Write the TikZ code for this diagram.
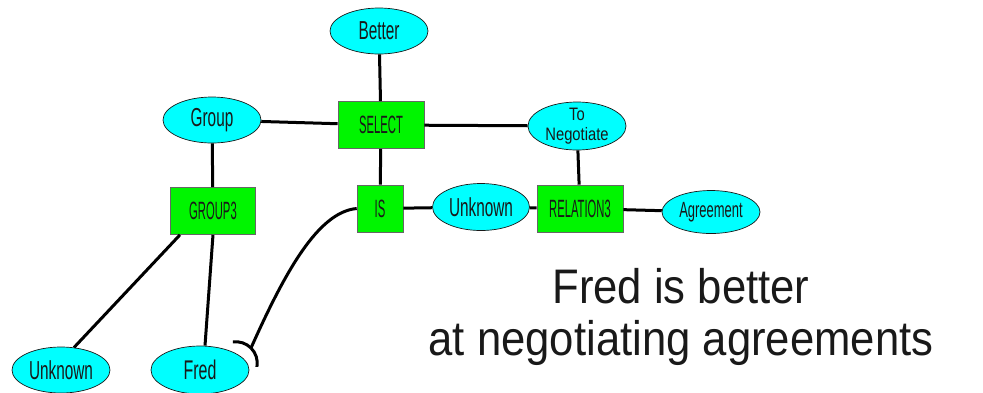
\documentclass[tikz,border=0pt]{standalone}
\usepackage{fontspec}
\setmainfont{Liberation Sans}
\newfontfamily\ellfont[FakeStretch=0.59]{Liberation Sans}
\newfontfamily\boxfont[FakeStretch=0.45]{Liberation Sans}
\newfontfamily\negfont[FakeStretch=0.82]{Liberation Sans}
\newfontfamily\bigfont[FakeStretch=0.9]{Liberation Sans}
\usetikzlibrary{shapes.geometric}
\definecolor{ecyan}{RGB}{0,255,255}
\definecolor{bgreen}{RGB}{0,245,0}
\definecolor{ink}{RGB}{25,25,25}
\tikzset{
  concept/.style={ellipse, draw=ink, line width=0.7pt, fill=ecyan,
    minimum width=98pt, minimum height=46pt, inner sep=0pt, text=ink,
    font=\ellfont\fontsize{26}{26}\selectfont},
  relbox/.style={rectangle, draw=black!60, line width=0.6pt, fill=bgreen,
    minimum height=47pt, inner sep=0pt, text=ink,
    font=\boxfont\fontsize{25}{25}\selectfont},
  link/.style={line width=3pt, black},
  caption/.style={anchor=base, inner sep=0pt, text=ink,
    font=\bigfont\fontsize{48.5}{52}\selectfont}
}
\begin{document}
\begin{tikzpicture}[x=1pt,y=-1pt]
\useasboundingbox (0,0) rectangle (983,392);
% nodes
\node[concept] (better) at (379,31) {Better};
\node[relbox, minimum width=86pt] (select) at (381,125) {SELECT};
\node[concept] (group) at (212,120) {Group};
\node[concept, align=center, inner ysep=-3pt, minimum height=48pt,
      font=\negfont\fontsize{18}{20}\selectfont] (toneg) at (577,126) {To\\Negotiate};
\node[relbox, minimum width=85pt] (group3) at (213,211) {GROUP3};
\node[relbox, minimum width=46pt] (is) at (380,208.5) {IS};
\node[concept, minimum width=97pt, minimum height=47pt] (unk1) at (481,207) {Unknown};
\node[relbox, minimum width=86pt] (rel) at (580,208.5) {RELATION3};
\node[concept, minimum height=43pt, font=\ellfont\fontsize{22}{22}\selectfont] (agree) at (711,212) {Agreement};
\node[concept, minimum height=48pt, font=\ellfont\fontsize{27}{27}\selectfont] (fred) at (200,370) {Fred};
\node[concept] (unk2) at (61,370) {Unknown};
\coordinate (hook) at (251,348);
% caption
\node[caption] (cap1) at (681,303) {Fred is better};
\node[caption] (cap2) at (681,355) {at negotiating agreements};
% connectors
\draw[link] (better) -- (select);
\draw[link] (group) -- (select);
\draw[link] (select) -- (toneg);
\draw[link] (select) -- (is);
\draw[link] (toneg) -- (rel);
\draw[link] (is) -- (unk1);
\draw[link] (unk1) -- (rel);
\draw[link] (rel) -- (agree);
\draw[link] (group) -- (group3);
\draw[link] ([xshift=-33pt]group3.south) -- (unk2.60);
\draw[link] (group3.south) -- ([xshift=5pt]fred.north);
\draw[link] (is.west) .. controls (318,212) and (285,272) .. (hook);
% hook end of the IS--Fred connector
\draw[link] (hook) arc[start angle=-45, end angle=-98, radius=21.4];
\draw[link] (hook) arc[start angle=-45, end angle=10, radius=21.4];
\end{tikzpicture}
\end{document}
